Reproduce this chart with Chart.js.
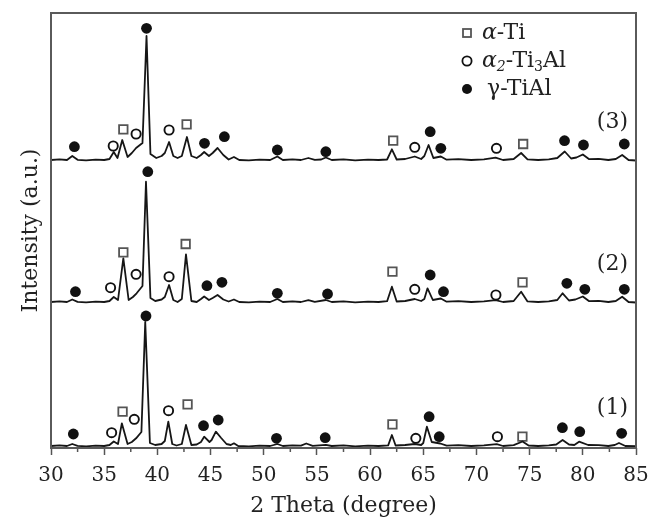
<!DOCTYPE html>
<html>
<head>
<meta charset="utf-8">
<script src="https://cdn.jsdelivr.net/npm/chart.js@4.4.1/dist/chart.umd.min.js"></script>
<style>
  body { margin: 0; background: #fff; }
  #wrap { width: 652px; height: 525px; }
</style>
</head>
<body>
<div id="wrap"><canvas id="xrd" width="652" height="525"></canvas></div>
<script>
// 2 Theta (degree) vs stacked intensity (a.u.)
const trace3 = [[30,288],[30.8,288.6],[31.5,288],[32.0,292],[32.5,288.2],[33.3,287.6],[34.2,288.4],[35.0,288],[35.5,289],[35.9,296],[36.25,290],[36.7,308],[37.2,291],[37.6,295],[38.0,300],[38.6,305],[38.98,412],[39.35,294],[39.9,290],[40.4,292],[40.7,295],[41.1,306],[41.5,292],[41.9,290],[42.3,292],[42.78,311],[43.2,292],[43.7,290],[44.1,293],[44.4,296],[44.85,292],[45.2,295],[45.66,300],[46.2,293],[46.7,288.5],[47.2,291],[47.7,288],[48.6,287.6],[49.6,288.4],[50.6,288],[51.28,291.5],[51.8,288],[52.7,288.6],[53.5,288],[54.2,290],[54.8,288.2],[55.4,288.5],[55.84,290.5],[56.4,288],[57.5,288.6],[58.6,287.6],[59.8,288.3],[60.8,288],[61.6,288.5],[62.05,298.7],[62.5,288.5],[63.3,289],[64.2,291.5],[64.8,289],[65.1,292],[65.5,303],[65.95,290],[66.65,291.5],[67.2,288.3],[68.3,288.8],[69.5,288],[70.7,288.6],[71.8,290.3],[72.5,288],[73.5,289],[74.2,295],[74.8,288.6],[75.8,288],[76.8,288.6],[77.6,290],[78.3,296.5],[78.9,289.5],[79.4,290.5],[80.0,293.5],[80.6,288.8],[81.5,289.2],[82.4,288],[83.1,289],[83.7,293],[84.3,288],[85,287.5]];
const trace2 = [[30,146],[30.8,146.6],[31.5,146],[32.0,148.5],[32.5,146.2],[33.3,145.6],[34.2,146.4],[35.0,146],[35.5,147],[35.9,151],[36.3,148],[36.8,189.7],[37.3,148],[37.7,151],[38.05,154.7],[38.6,162],[38.93,266.3],[39.35,150],[39.8,147],[40.4,148.5],[40.7,151],[41.1,163],[41.5,148],[41.9,146],[42.3,149],[42.69,193.7],[43.2,147],[43.7,146],[44.1,149],[44.4,151.5],[44.85,148],[45.2,150],[45.66,153],[46.2,148.5],[46.7,146.5],[47.2,148.5],[47.7,146],[48.6,145.6],[49.6,146.4],[50.6,146],[51.28,149],[51.8,146],[52.7,146.6],[53.5,146],[54.2,147.8],[54.8,146.2],[55.84,148],[56.4,146],[57.5,146.6],[58.6,145.6],[59.8,146.3],[60.8,146],[61.6,146.8],[62.05,161.3],[62.5,146.5],[63.3,147],[64.2,149],[64.8,147],[65.1,149],[65.4,159.7],[65.9,148],[66.65,149.5],[67.2,146.3],[68.3,146.8],[69.5,146],[70.7,146.6],[71.8,147.8],[72.5,146],[73.5,147],[74.2,156.3],[74.8,146.6],[75.8,146],[76.8,146.6],[77.6,148],[78.1,154.7],[78.7,147.5],[79.3,148.5],[80.0,151.5],[80.6,146.8],[81.5,147.2],[82.4,146],[83.1,147],[83.7,151.3],[84.3,146],[85,145.5]];
const trace1 = [[30,2],[30.8,2.6],[31.5,2],[32.0,4],[32.5,2.2],[33.3,1.6],[34.2,2.4],[35.0,2],[35.5,3],[35.9,6.5],[36.3,4],[36.66,24.7],[37.2,4],[37.6,6],[38.0,9.7],[38.5,16],[38.86,126],[39.3,5],[39.8,3],[40.4,4],[40.7,7],[41.03,26.3],[41.4,4],[41.8,2.5],[42.3,4],[42.69,23],[43.2,3],[43.7,3.5],[44.1,6],[44.4,11.3],[44.9,6],[45.1,8],[45.5,16.3],[46.0,10],[46.5,4],[46.9,3],[47.2,4.7],[47.6,2],[48.6,1.6],[49.6,2.4],[50.6,2],[51.28,4],[51.8,2],[52.7,2.6],[53.5,2.4],[54.0,4.5],[54.6,2.2],[55.84,3.2],[56.4,2],[57.5,2.6],[58.6,1.6],[59.8,2.3],[60.8,2],[61.7,2.6],[62.05,13],[62.4,2.5],[63.3,3],[64.2,4],[64.8,3],[65.0,5],[65.34,21.3],[65.8,6],[66.6,4.5],[67.2,2.3],[68.3,2.8],[69.5,2],[70.7,2.6],[71.9,3.8],[72.5,2],[73.5,2.8],[74.33,6.5],[74.9,2.5],[75.8,2],[76.8,2.6],[77.5,3.5],[78.1,8],[78.7,3.5],[79.2,3],[79.65,6.3],[80.5,3],[81.5,2.8],[82.4,2],[83.0,3],[83.4,5],[84,2],[85,1.8]];

// phase markers over the peaks (all three patterns)
const alphaTi = [[36.8,318.7],[42.75,323.7],[62.17,307.3],[74.39,304],[36.8,195.7],[42.66,204],[62.1,176.3],[74.33,165.7],[36.73,36.3],[42.84,43.7],[62.1,23.7],[74.32,11.3]];
const alpha2Ti3Al = [[35.85,302],[38.0,314],[41.1,318],[64.2,300.7],[71.88,299.7],[35.6,160.3],[38.0,173.7],[41.1,171.3],[64.2,158.7],[71.83,153],[35.7,15.3],[37.83,28.7],[41.05,37.3],[64.3,9.7],[71.97,11.3]];
const gammaTiAl = [[32.2,301.3],[38.98,419.7],[44.43,304.7],[46.3,311.3],[51.28,298],[55.84,296.3],[65.65,316.3],[66.65,299.7],[78.28,307.3],[80.06,303],[83.9,304],
  [32.3,156.3],[39.1,276.3],[44.66,162.3],[46.07,165.7],[51.28,154.7],[56.0,154],[65.65,173],[66.9,156.3],[78.5,164.7],[80.19,158.7],[83.9,158.7],
  [32.1,14],[38.93,132],[44.34,22.3],[45.72,28],[51.2,9.7],[55.78,10.3],[65.55,31.3],[66.5,11.3],[78.08,20.3],[79.71,16.3],[83.65,14.7]];

const sampleNames = ['(1)', '(2)', '(3)'];
const xTicks = [30, 35, 40, 45, 50, 55, 60, 65, 70, 75, 80, 85];

const serif = '"DejaVu Serif", "Liberation Serif", serif';
Chart.defaults.font.family = serif;
Chart.defaults.color = '#222';

// legend entries: [text, italic, subscript]
const legendRows = [
  { style: 'rect',   parts: [['α', 1, 0], ['-Ti', 0, 0]] },
  { style: 'circle', parts: [['α', 1, 0], ['2', 1, 1], ['-Ti', 0, 0], ['3', 0, 1], ['Al', 0, 0]] },
  { style: 'dot',    parts: [['γ', 0, 0], ['-TiAl', 0, 0]] }
];

function drawMarker(ctx, style, x, y) {
  ctx.save();
  ctx.lineWidth = 1.8;
  if (style === 'rect') {
    ctx.strokeStyle = '#555';
    ctx.fillStyle = '#fff';
    ctx.fillRect(x - 4, y - 4, 8, 8);
    ctx.strokeRect(x - 4, y - 4, 8, 8);
  } else if (style === 'circle') {
    ctx.strokeStyle = '#111';
    ctx.beginPath(); ctx.arc(x, y, 4.6, 0, Math.PI * 2); ctx.stroke();
  } else {
    ctx.fillStyle = '#111';
    ctx.beginPath(); ctx.arc(x, y, 5, 0, Math.PI * 2); ctx.fill();
  }
  ctx.restore();
}

const decor = {
  id: 'decor',
  afterDatasetsDraw(chart) {
    const { ctx, chartArea: a, scales: { x, y } } = chart;
    ctx.save();
    // minor ticks
    ctx.strokeStyle = '#555';
    ctx.lineWidth = 1.5;
    for (let i = 0; i < xTicks.length - 1; i++) {
      const px = x.getPixelForValue(xTicks[i] + 2.5);
      ctx.beginPath(); ctx.moveTo(px, a.bottom); ctx.lineTo(px, a.bottom + 4); ctx.stroke();
    }
    // frame
    ctx.lineWidth = 2;
    ctx.strokeStyle = '#5a5a5a';
    ctx.strokeRect(a.left, a.top, a.right - a.left, a.bottom - a.top);

    // sample numbers
    ctx.fillStyle = '#222';
    ctx.font = '22px ' + serif;
    ctx.textAlign = 'right';
    ctx.textBaseline = 'middle';
    [trace1, trace2, trace3].forEach((t, i) => {
      const last = t[t.length - 1];
      ctx.fillText(sampleNames[i], x.getPixelForValue(84.25), y.getPixelForValue(last[1]) - 38);
    });

    // legend
    ctx.textAlign = 'left';
    legendRows.forEach((row, i) => {
      const cy = a.top + 20 + i * 28;
      drawMarker(ctx, row.style, a.left + 416, cy);
      let tx = a.left + (row.style === 'dot' ? 436 : 431);
      row.parts.forEach(([txt, it, sub]) => {
        ctx.font = (it ? 'italic ' : '') + (sub ? '14px ' : '22px ') + serif;
        ctx.fillText(txt, tx, cy + (sub ? 6 : 0));
        tx += ctx.measureText(txt).width;
      });
    });
    ctx.restore();
  }
};

const lineDs = (data) => ({
  type: 'line', data, borderColor: '#161616', borderWidth: 1.8,
  pointRadius: 0, tension: 0, fill: false, borderJoinStyle: 'round'
});

new Chart(document.getElementById('xrd'), {
  type: 'line',
  data: {
    datasets: [
      lineDs(trace1), lineDs(trace2), lineDs(trace3),
      { label: 'α-Ti', data: alphaTi, showLine: false, pointStyle: 'rect', pointRadius: 6,
        pointBorderWidth: 1.8, pointBorderColor: '#555', pointBackgroundColor: '#fff' },
      { label: 'α2-Ti3Al', data: alpha2Ti3Al, showLine: false, pointStyle: 'circle', pointRadius: 4.6,
        pointBorderWidth: 1.9, pointBorderColor: '#111', pointBackgroundColor: '#fff' },
      { label: 'γ-TiAl', data: gammaTiAl, showLine: false, pointStyle: 'circle', pointRadius: 5.4,
        pointBorderWidth: 0, pointBackgroundColor: '#111' }
    ]
  },
  options: {
    responsive: false,
    animation: false,
    layout: { padding: { top: 13, right: 16, left: 0, bottom: 0 } },
    plugins: { legend: { display: false }, tooltip: { enabled: false } },
    scales: {
      x: {
        type: 'linear', min: 30, max: 85,
        afterBuildTicks: s => { s.ticks = xTicks.map(v => ({ value: v })); },
        afterFit: s => { s.height = 77; s.paddingLeft = 0; s.paddingRight = 0; },
        ticks: { font: { size: 20 }, color: '#222', padding: 9, maxRotation: 0 },
        grid: { drawOnChartArea: false, tickLength: 7, tickWidth: 1.5, tickColor: '#555' },
        border: { display: false },
        title: { display: true, text: '2 Theta (degree)', font: { size: 22 }, color: '#222', padding: { bottom: 6 } }
      },
      y: {
        min: 0, max: 435,
        afterFit: s => { s.width = 51; },
        ticks: { display: false },
        grid: { display: false },
        border: { display: false },
        title: { display: true, text: 'Intensity (a.u.)', font: { size: 22 }, color: '#222', padding: { top: 18 } }
      }
    }
  },
  plugins: [decor]
});
</script>
</body>
</html>
